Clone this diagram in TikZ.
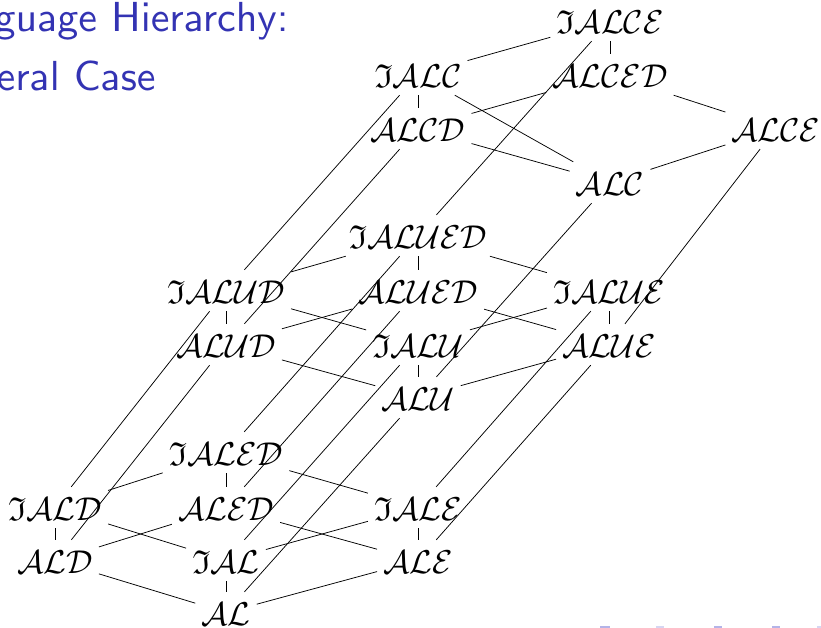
\RequirePackage{fix-cm}
\documentclass[tikz,border=0pt]{standalone}
\usepackage{amssymb}

\definecolor{titleblue}{RGB}{51,51,179}
\definecolor{navlight}{RGB}{214,214,242}
\definecolor{navmid}{RGB}{180,180,232}

% frame-title face: the 10pt sans design, enlarged
\font\ttlfont=cmss10 at 42pt

% calligraphic letters for the logic names, fraktur I for inverse roles
\newcommand{\dlfont}{\fontsize{33}{40}\selectfont}
\newcommand{\dln}[1]{\ensuremath{\mathcal{#1}}}
\newcommand{\inv}{\ensuremath{\mathfrak{I}}}

\tikzset{
  dl/.style={anchor=base, inner sep=6pt, text height=27pt, text depth=2pt, font=\dlfont},
  link/.style={line width=0.75pt, black},
  slidetitle/.style={anchor=base east, inner sep=0pt, text=titleblue, font=\ttlfont},
}

\begin{document}
\begin{tikzpicture}[x=1pt, y=-1pt]
\useasboundingbox (0,0) rectangle (821,627);

% frame title (cut by the left page edge)
\node[slidetitle] (t1) at (289,31) {Language Hierarchy:};
\node[slidetitle] (t2) at (156,90) {General Case};

% navigation symbols at the lower right
\fill[navmid]   (600,625.5) rectangle (610,629);
\fill[navlight] (656,625.5) rectangle (664,629);
\fill[navmid]   (714,625.5) rectangle (722,629);
\fill[navmid]   (772,625.5) rectangle (780,629);
\fill[navlight] (817,625.5) rectangle (825,629);

% ---- bottom layer: AL ----
\node[dl] (AL)    at (226,625) {\dln{AL}};
\node[dl] (IAL)   at (226,573) {\inv\dln{AL}};
\node[dl] (ALD)   at (55,573)  {\dln{ALD}};
\node[dl] (ALE)   at (418,573) {\dln{ALE}};
\node[dl] (IALD)  at (55,520)  {\inv\dln{ALD}};
\node[dl] (ALED)  at (226,520) {\dln{ALED}};
\node[dl] (IALE)  at (418,520) {\inv\dln{ALE}};
\node[dl] (IALED) at (226,465) {\inv\dln{ALED}};

% ---- middle layer: ALU ----
\node[dl] (ALU)    at (418,410) {\dln{ALU}};
\node[dl] (IALU)   at (418,357) {\inv\dln{ALU}};
\node[dl] (ALUD)   at (226,357) {\dln{ALUD}};
\node[dl] (ALUE)   at (609,357) {\dln{ALUE}};
\node[dl] (IALUD)  at (226,303) {\inv\dln{ALUD}};
\node[dl] (ALUED)  at (418,303) {\dln{ALUED}};
\node[dl] (IALUE)  at (609,303) {\inv\dln{ALUE}};
\node[dl] (IALUED) at (418,248) {\inv\dln{ALUED}};

% ---- top layer: ALC ----
\node[dl] (ALC)   at (610,195) {\dln{ALC}};
\node[dl] (ALCD)  at (418,141) {\dln{ALCD}};
\node[dl] (ALCE)  at (776,141) {\dln{ALCE}};
\node[dl] (IALC)  at (418,87)  {\inv\dln{ALC}};
\node[dl] (ALCED) at (610,87)  {\dln{ALCED}};
\node[dl] (IALCE) at (610,33)  {\inv\dln{ALCE}};

% cube edges, bottom layer
\draw[link] (AL) -- (IAL);  \draw[link] (AL) -- (ALD);   \draw[link] (AL) -- (ALE);
\draw[link] (IAL) -- (IALD); \draw[link] (IAL) -- (IALE);
\draw[link] (ALD) -- (IALD); \draw[link] (ALD) -- (ALED);
\draw[link] (ALE) -- (IALE); \draw[link] (ALE) -- (ALED);
\draw[link] (IALD) -- (IALED); \draw[link] (IALE) -- (IALED); \draw[link] (ALED) -- (IALED);

% cube edges, middle layer
\draw[link] (ALU) -- (IALU);  \draw[link] (ALU) -- (ALUD);   \draw[link] (ALU) -- (ALUE);
\draw[link] (IALU) -- (IALUD); \draw[link] (IALU) -- (IALUE);
\draw[link] (ALUD) -- (IALUD); \draw[link] (ALUD) -- (ALUED);
\draw[link] (ALUE) -- (IALUE); \draw[link] (ALUE) -- (ALUED);
\draw[link] (IALUD) -- (IALUED); \draw[link] (IALUE) -- (IALUED); \draw[link] (ALUED) -- (IALUED);

% edges, top layer
\draw[link] (IALCE) -- (IALC); \draw[link] (IALCE) -- (ALCED);
\draw[link] (IALC) -- (ALCD);  \draw[link] (IALC) -- (ALC);
\draw[link] (ALCD) -- (ALCED); \draw[link] (ALCD) -- (ALC);
\draw[link] (ALCE) -- (ALCED); \draw[link] (ALCE) -- (ALC);

% bottom to middle
\draw[link] (AL) -- (ALU);     \draw[link] (IAL) -- (IALU);
\draw[link] (ALD) -- (ALUD);   \draw[link] (ALE) -- (ALUE);
\draw[link] (IALD) -- (IALUD); \draw[link] (IALE) -- (IALUE);
\draw[link] (ALED) -- (ALUED); \draw[link] (IALED) -- (IALUED);

% middle to top
\draw[link] (IALUD) -- (IALC);  \draw[link] (ALUD) -- (ALCD);
\draw[link] (IALUED) -- (IALCE); \draw[link] (ALU) -- (ALC);
\draw[link] (ALUE) -- (ALCE);
\end{tikzpicture}
\end{document}
